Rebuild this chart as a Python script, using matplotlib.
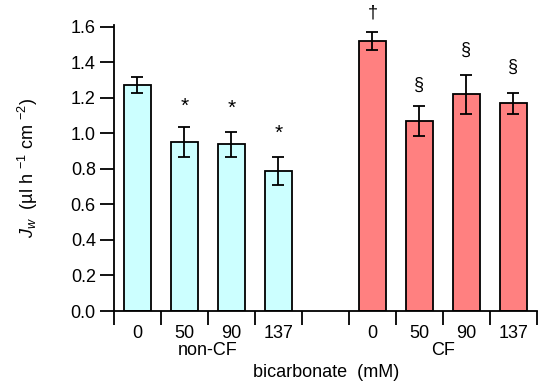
import matplotlib
matplotlib.use("Agg")
import matplotlib.pyplot as plt
import numpy as np

plt.rcParams['font.family'] = ['Liberation Sans', 'DejaVu Sans']
plt.rcParams['mathtext.fontset'] = 'custom'
plt.rcParams['mathtext.rm'] = 'Liberation Sans'
plt.rcParams['mathtext.it'] = 'Liberation Sans:italic'

conc_labels = ["0", "50", "90", "137"]
noncf_vals = [1.27, 0.95, 0.94, 0.79]
noncf_err = [0.045, 0.085, 0.07, 0.08]
cf_vals = [1.52, 1.07, 1.22, 1.17]
cf_err = [0.05, 0.085, 0.11, 0.06]
noncf_marks = ["", "*", "*", "*"]
cf_marks = ["†", "§", "§", "§"]
noncf_mark_y = [None, 1.15, 1.14, 1.0]
cf_mark_y = [1.68, 1.27, 1.47, 1.37]
group_names = ["non-CF", "CF"]

fig = plt.figure(figsize=(5.5, 3.89), dpi=100)
ax = fig.add_axes([0.207, 0.2005, 0.769, 0.735])

x_non = np.arange(4)
x_cf = np.arange(4) + 5
w = 0.57
lw = 1.3
ax.bar(x_non, noncf_vals, w, color="#ccffff", edgecolor="black", linewidth=lw, zorder=2)
ax.bar(x_cf, cf_vals, w, color="#ff8080", edgecolor="black", linewidth=lw, zorder=2)
ax.errorbar(x_non, noncf_vals, yerr=noncf_err, fmt="none", ecolor="black", elinewidth=lw, capsize=4, capthick=lw, zorder=3)
ax.errorbar(x_cf, cf_vals, yerr=cf_err, fmt="none", ecolor="black", elinewidth=lw, capsize=4, capthick=lw, zorder=3)

for xi, m, yy in zip(x_non, noncf_marks, noncf_mark_y):
    if m:
        ax.text(xi, yy, m, ha="center", va="center", fontsize=15)
for xi, m, yy in zip(x_cf, cf_marks, cf_mark_y):
    ax.text(xi, yy, m, ha="center", va="center", fontsize=13, clip_on=False)

ax.set_xlim(-0.5, 8.5)
ax.set_ylim(0, 1.61)
yt = np.arange(0, 1.61, 0.2)
ax.set_yticks(yt)
ax.set_yticklabels([f"{v:.1f}" for v in yt], fontsize=13)
ax.tick_params(axis="y", direction="out", length=10, width=lw, pad=3)

ax.set_xticks(np.arange(-0.5, 9, 1.0))
ax.set_xticklabels([])
ax.tick_params(axis="x", which="major", direction="out", length=10, width=lw)
ax.set_xticks(list(x_non) + list(x_cf), minor=True)
ax.set_xticklabels(conc_labels + conc_labels, minor=True, fontsize=13)
ax.tick_params(axis="x", which="minor", length=0, pad=10)

for s in ["top", "right"]:
    ax.spines[s].set_visible(False)
for s in ["left", "bottom"]:
    ax.spines[s].set_linewidth(lw)

ax.text(1.5, -0.225, group_names[0], ha="center", va="center", fontsize=13)
ax.text(6.5, -0.225, group_names[1], ha="center", va="center", fontsize=13)
fig.text(0.593, 0.043, "bicarbonate  (mM)", ha="center", va="center", fontsize=13)

ax.set_ylabel(r"$J_{w}$  (µl h $^{-1}$ cm $^{-2}$)", fontsize=13, labelpad=22)

fig.savefig("out.png", dpi=100)
